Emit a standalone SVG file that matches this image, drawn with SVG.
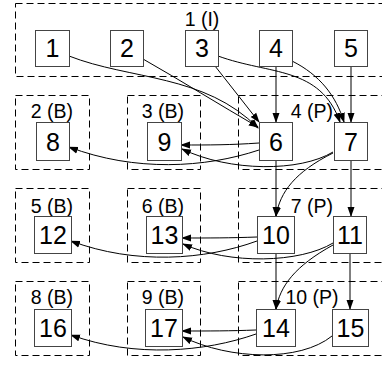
<svg xmlns="http://www.w3.org/2000/svg" width="382" height="365" viewBox="0 0 382 365">
<defs>
<marker id="ah" markerWidth="10" markerHeight="8" refX="9" refY="4" orient="auto" markerUnits="userSpaceOnUse">
<path d="M0,0.5 L10,4 L0,7.5 z" fill="#000"/>
</marker>
<style>
.cl{fill:none;stroke:#000;stroke-width:1;stroke-dasharray:7,4}
.nd rect{fill:#fff;stroke:#444;stroke-width:1}
.nd text{font-family:"Liberation Sans",Arial,sans-serif;font-size:25px;text-anchor:middle;fill:#000}
.lb{font-family:"Liberation Sans",Arial,sans-serif;font-size:19.5px;text-anchor:middle;fill:#000}
.e path{fill:none;stroke:#000;stroke-width:1;marker-end:url(#ah)}
</style>
</defs>
<rect width="382" height="365" fill="#fff"/>
<g id="clusters">
<rect class="cl" x="15.5" y="3.5" width="380" height="73"/>
<text class="lb" x="202" y="26">1 (I)</text>
<rect class="cl" x="15.5" y="95.5" width="74" height="74"/>
<text class="lb" x="52" y="118">2 (B)</text>
<rect class="cl" x="127.5" y="95.5" width="73" height="74"/>
<text class="lb" x="163" y="118">3 (B)</text>
<rect class="cl" x="238.5" y="95.5" width="150" height="74"/>
<text class="lb" x="312" y="118">4 (P)</text>
<rect class="cl" x="15.5" y="188.5" width="74" height="74"/>
<text class="lb" x="52" y="213">5 (B)</text>
<rect class="cl" x="127.5" y="188.5" width="73" height="74"/>
<text class="lb" x="163" y="213">6 (B)</text>
<rect class="cl" x="238.5" y="188.5" width="150" height="74"/>
<text class="lb" x="312" y="213">7 (P)</text>
<rect class="cl" x="15.5" y="281.5" width="74" height="74"/>
<text class="lb" x="52" y="304">8 (B)</text>
<rect class="cl" x="127.5" y="281.5" width="73" height="74"/>
<text class="lb" x="163" y="304">9 (B)</text>
<rect class="cl" x="238.5" y="281.5" width="150" height="74"/>
<text class="lb" x="312" y="304">10 (P)</text>
</g>
<g id="edges" class="e">
<path d="M69,56 C130,80 205,74 258,128"/>
<path d="M143,59 C180,80 220,105 258,127"/>
<path d="M215,66 L259,122"/>
<path d="M276,66 L276,122"/>
<path d="M218,56 C270,75 320,66 340,122"/>
<path d="M292,61 C320,75 336,96 344,122"/>
<path d="M351,66 L351,122"/>
<path d="M259,143 C230,145 210,145 181,145"/>
<path d="M259,150 C205,168 135,172 69,147"/>
<path d="M333,152 C300,172 230,172 182,149"/>
<path d="M333,153 C295,172 280,192 276,216"/>
<path d="M276,161 L276,216"/>
<path d="M351,161 L351,216"/>
<path d="M257,237 C230,238 210,238 182,238"/>
<path d="M257,241 C205,260 135,265 71,241"/>
<path d="M333,243 C300,263 230,265 183,244"/>
<path d="M333,245 C295,266 280,286 276,309"/>
<path d="M276,253 L276,309"/>
<path d="M350,253 L350,309"/>
<path d="M256,330 C230,331 210,331 182,331"/>
<path d="M256,334 C205,352 135,358 71,335"/>
<path d="M332,336 C300,362 230,360 183,337"/>
</g>
<g id="n1" class="nd"><rect x="35.5" y="30.5" width="34" height="36"/><text x="52.5" y="57">1</text></g>
<g id="n2" class="nd"><rect x="110.5" y="30.5" width="33" height="36"/><text x="127" y="57">2</text></g>
<g id="n3" class="nd"><rect x="185.5" y="30.5" width="33" height="36"/><text x="202" y="57">3</text></g>
<g id="n4" class="nd"><rect x="259.5" y="30.5" width="33" height="36"/><text x="276" y="57">4</text></g>
<g id="n5" class="nd"><rect x="334.5" y="30.5" width="33" height="36"/><text x="351" y="57">5</text></g>
<g id="n8" class="nd"><rect x="36.5" y="122.5" width="33" height="38"/><text x="53" y="151">8</text></g>
<g id="n9" class="nd"><rect x="147.5" y="122.5" width="34" height="38"/><text x="164.5" y="151">9</text></g>
<g id="n6" class="nd"><rect x="259.5" y="122.5" width="33" height="38"/><text x="276" y="151">6</text></g>
<g id="n7" class="nd"><rect x="334.5" y="122.5" width="33" height="38"/><text x="351" y="151">7</text></g>
<g id="n12" class="nd"><rect x="34.5" y="216.5" width="37" height="37"/><text x="53" y="244">12</text></g>
<g id="n13" class="nd"><rect x="146.5" y="216.5" width="36" height="37"/><text x="164.5" y="244">13</text></g>
<g id="n10" class="nd"><rect x="257.5" y="216.5" width="37" height="37"/><text x="276" y="244">10</text></g>
<g id="n11" class="nd"><rect x="333.5" y="216.5" width="33" height="37"/><text x="350" y="244">11</text></g>
<g id="n16" class="nd"><rect x="34.5" y="309.5" width="37" height="37"/><text x="53" y="337">16</text></g>
<g id="n17" class="nd"><rect x="145.5" y="309.5" width="37" height="37"/><text x="164" y="337">17</text></g>
<g id="n14" class="nd"><rect x="256.5" y="309.5" width="39" height="37"/><text x="276" y="337">14</text></g>
<g id="n15" class="nd"><rect x="332.5" y="309.5" width="36" height="37"/><text x="350.5" y="337">15</text></g>
</svg>
